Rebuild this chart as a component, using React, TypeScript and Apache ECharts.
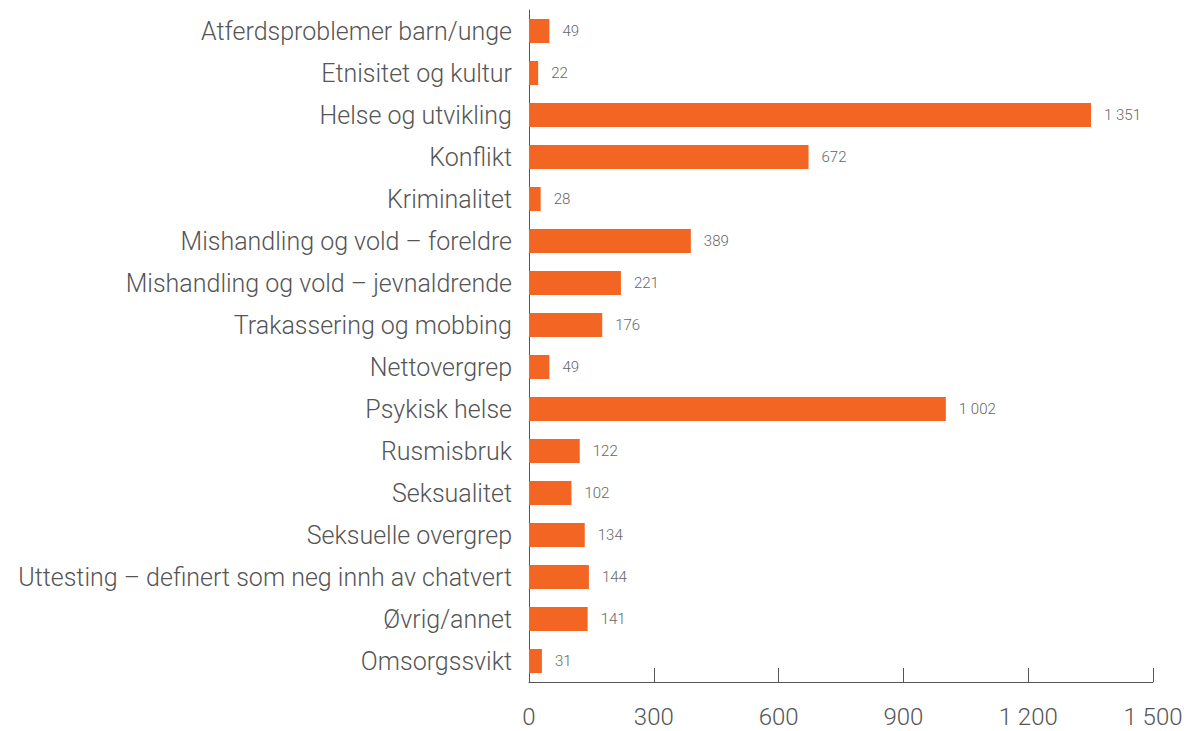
import React, { useEffect, useRef } from "react";
import * as echarts from "echarts";

const categories = [
  "Atferdsproblemer barn/unge",
  "Etnisitet og kultur",
  "Helse og utvikling",
  "Konflikt",
  "Kriminalitet",
  "Mishandling og vold – foreldre",
  "Mishandling og vold – jevnaldrende",
  "Trakassering og mobbing",
  "Nettovergrep",
  "Psykisk helse",
  "Rusmisbruk",
  "Seksualitet",
  "Seksuelle overgrep",
  "Uttesting – definert som neg innh av chatvert",
  "Øvrig/annet",
  "Omsorgssvikt",
];
const values = [49, 22, 1351, 672, 28, 389, 221, 176, 49, 1002, 122, 102, 134, 144, 141, 31];

const fmt = (v: number) => String(v).replace(/\B(?=(\d{3})+(?!\d))/g, " ");

export default function App() {
  const ref = useRef<HTMLDivElement>(null);
  useEffect(() => {
    const chart = echarts.init(ref.current!, null, { renderer: "svg" });
    chart.setOption({
      animation: false,
      grid: { left: 529, right: 33, top: 10, bottom: 49, containLabel: false },
      xAxis: {
        type: "value",
        min: 0,
        max: 1500,
        interval: 300,
        splitLine: { show: false },
        axisLine: { show: true, lineStyle: { color: "#555", width: 1 } },
        axisTick: { show: true, inside: true, length: 14, lineStyle: { color: "#555" } },
        axisLabel: {
          color: "#555",
          fontSize: 24,
          fontWeight: 300,
          fontFamily: "Roboto",
          margin: 23,
          formatter: (v: number) => fmt(v),
        },
      },
      yAxis: {
        type: "category",
        data: categories,
        inverse: true,
        axisLine: { show: true, lineStyle: { color: "#555", width: 1 } },
        axisTick: { show: false },
        axisLabel: {
          color: "#555",
          fontSize: 25,
          fontWeight: 300,
          fontFamily: "Roboto",
          margin: 17,
          padding: [0, 0, 3, 0],
        },
      },
      series: [
        {
          type: "bar",
          data: values,
          barWidth: 24,
          itemStyle: { color: "#F26522" },
          label: {
            show: true,
            position: "right",
            distance: 13,
            color: "#666",
            fontSize: 15,
            fontWeight: 300,
            fontFamily: "Roboto",
            formatter: (p: any) => fmt(p.value),
          },
        },
      ],
    });
    return () => chart.dispose();
  }, []);
  return <div ref={ref} style={{ width: 1186, height: 731, position: "absolute", left: 0, top: 0 }} />;
}
